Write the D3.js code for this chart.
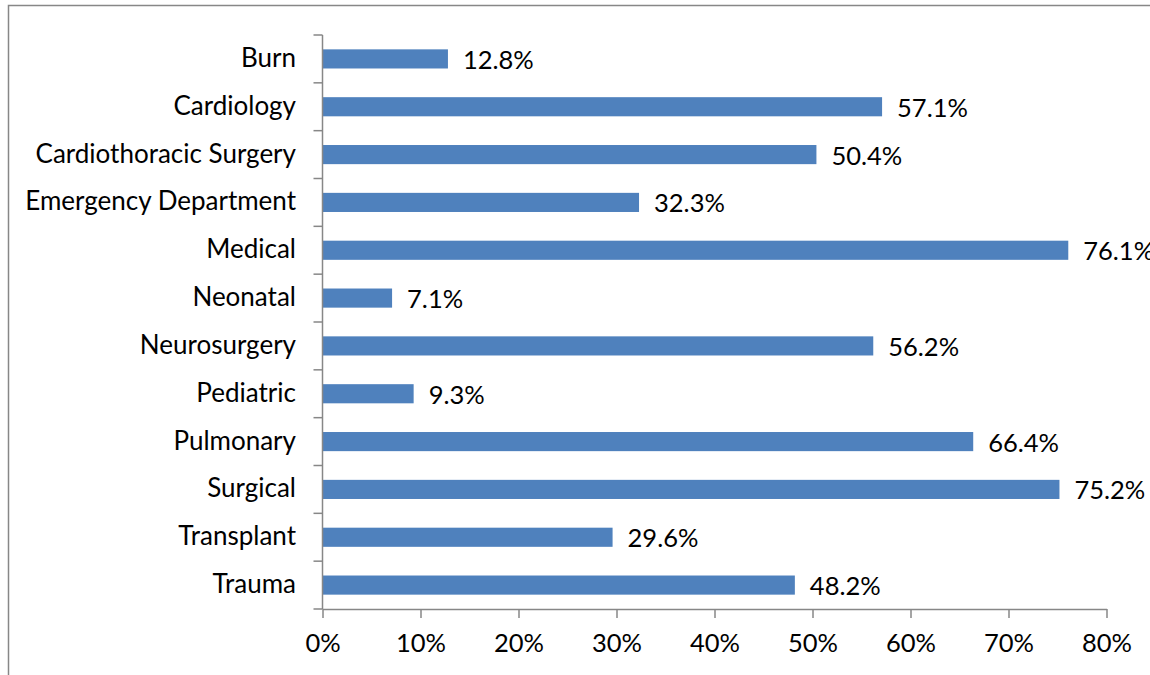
<!DOCTYPE html>
<html><head><meta charset="utf-8">
<script src="https://cdn.jsdelivr.net/npm/d3@7"></script>
<style>body{margin:0;background:#fff;} svg{display:block;}</style>
</head><body>
<svg id="c" width="1150" height="675"></svg>
<script>
const categories = ["Burn","Cardiology","Cardiothoracic Surgery","Emergency Department","Medical","Neonatal","Neurosurgery","Pediatric","Pulmonary","Surgical","Transplant","Trauma"];
const values = [12.8,57.1,50.4,32.3,76.1,7.1,56.2,9.3,66.4,75.2,29.6,48.2];
const xTicks = [0,10,20,30,40,50,60,70,80];

const svg = d3.select("#c");
const font = "Lato, 'Open Sans', sans-serif";
svg.append("rect").attr("x",8.5).attr("y",5.5).attr("width",1200).attr("height",800)
  .attr("fill","none").attr("stroke","#878787").attr("stroke-width",1.5);

const x = d3.scaleLinear().domain([0,80]).range([322.5,1106.5]);
const y = d3.scaleBand().domain(categories).range([35,609]).paddingInner(0.6).paddingOuter(0.3);
const yb = d3.scaleBand().domain(categories).range([35,609]);

// bars
svg.selectAll("rect.bar").data(categories).enter().append("rect").attr("class","bar")
  .attr("x",x(0)).attr("y",d=>y(d)).attr("height",y.bandwidth())
  .attr("width",(d,i)=>x(values[i])-x(0)).attr("fill","#4F81BD");

// value labels
svg.selectAll("text.val").data(categories).enter().append("text").attr("class","val")
  .attr("x",(d,i)=>x(values[i])+15).attr("y",d=>y(d)+y.bandwidth()/2+10)
  .attr("font-family",font).attr("font-size",25.5).attr("fill","#000")
  .text((d,i)=>values[i].toFixed(1)+"%");

// y axis
const yAxis = svg.append("g").attr("transform","translate(322.5,0)");
yAxis.append("line").attr("x1",0).attr("x2",0).attr("y1",35).attr("y2",609).attr("stroke","#878787").attr("stroke-width",1.5);
const yTickPos = categories.map(d=>yb(d)).concat([609]);
yAxis.selectAll("line.t").data(yTickPos).enter().append("line").attr("class","t")
  .attr("x1",-9).attr("x2",0).attr("y1",d=>d).attr("y2",d=>d).attr("stroke","#878787").attr("stroke-width",1.5);
svg.selectAll("text.cat").data(categories).enter().append("text").attr("class","cat")
  .attr("x",296).attr("y",d=>yb(d)+yb.bandwidth()/2+8).attr("text-anchor","end")
  .attr("font-family",font).attr("font-size",26).attr("fill","#000").text(d=>d);

// x axis
const xAxis = d3.axisBottom(x).tickValues(xTicks).tickFormat(d=>d+"%").tickSize(9).tickSizeOuter(0);
const gx = svg.append("g").attr("transform","translate(0,609)").call(xAxis);
gx.select(".domain").attr("stroke","#878787").attr("stroke-width",1.5);
gx.selectAll(".tick line").attr("stroke","#878787").attr("stroke-width",1.5);
gx.selectAll(".tick text").attr("font-family",font).attr("font-size",25.5).attr("fill","#000").attr("y",43).attr("dy","0");
</script>
</body></html>
